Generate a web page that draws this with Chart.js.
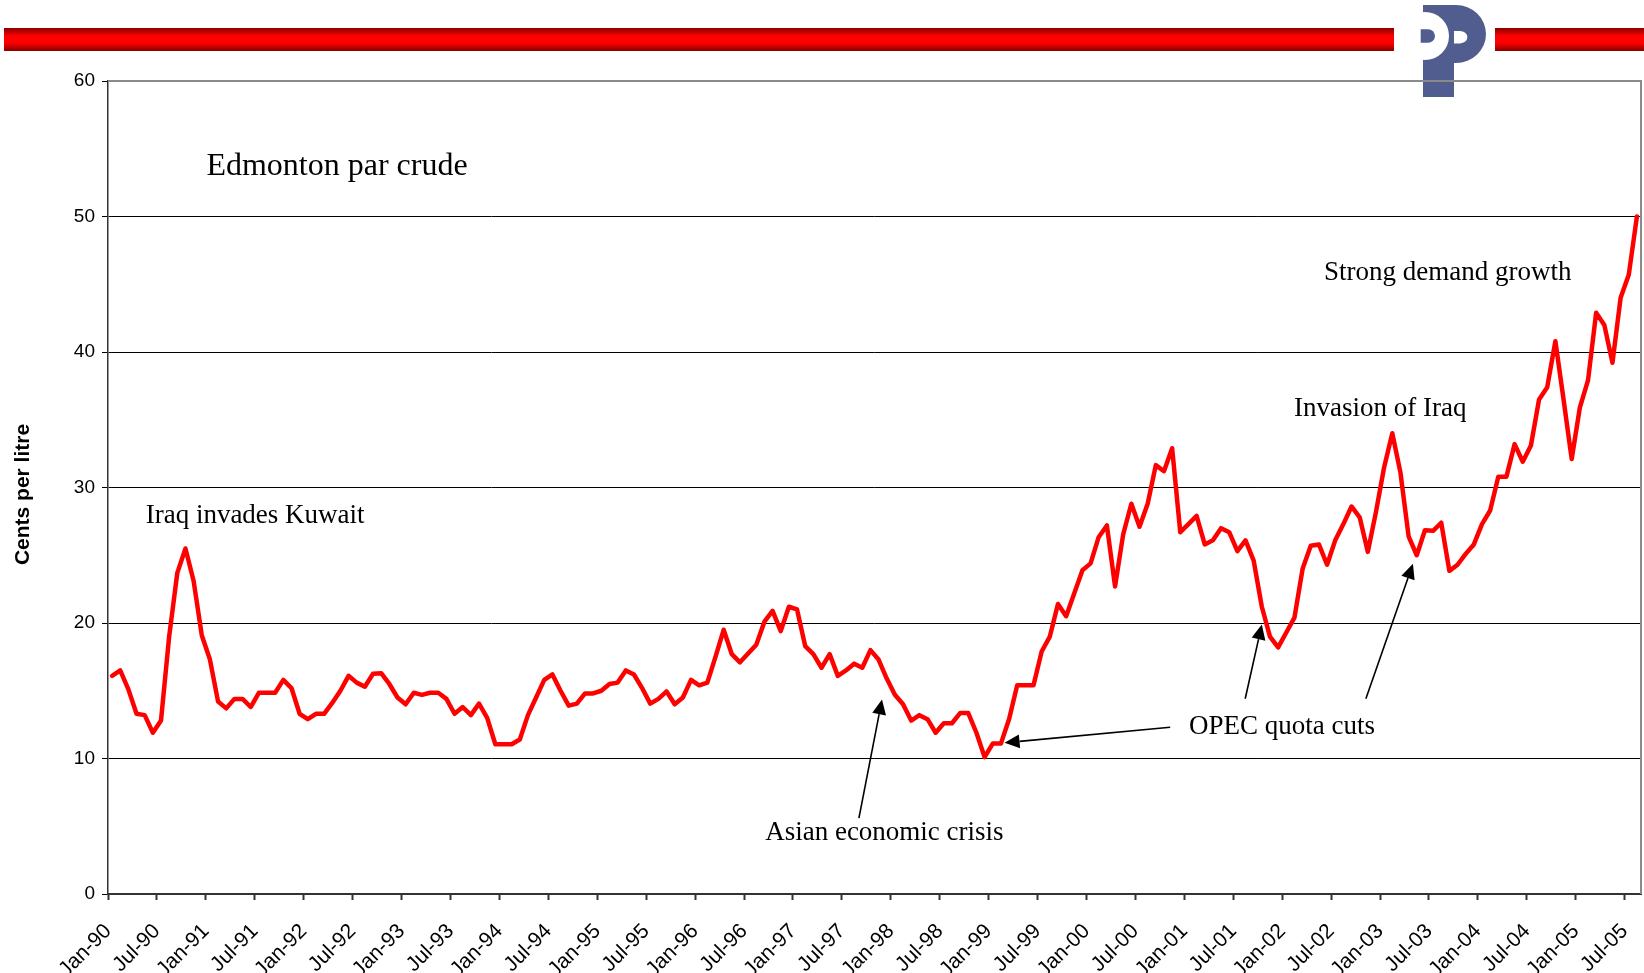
<!DOCTYPE html>
<html>
<head>
<meta charset="utf-8">
<title>Edmonton par crude</title>
<script src="https://cdn.jsdelivr.net/npm/chart.js@4.4.1/dist/chart.umd.min.js"></script>
<style>
	html, body { margin: 0; padding: 0; background: #fff; }
	#wrap { width: 1644px; height: 973px; }
</style>
</head>
<body>
<div id="wrap"><canvas id="crudeChart" width="1644" height="973"></canvas></div>
<script>
// month names for the category labels (Jan-90 .. Aug-05)
var MONTHS = ['Jan', 'Feb', 'Mar', 'Apr', 'May', 'Jun', 'Jul', 'Aug', 'Sep', 'Oct', 'Nov', 'Dec'];
var START_YEAR = 1990;

// Edmonton par crude, cents per litre, monthly (one line per year)
var priceData = [
	16.1, 16.5, 15.1, 13.3, 13.2, 11.9, 12.8, 19.0, 23.7, 25.5, 23.1, 19.1,
	17.3, 14.2, 13.7, 14.4, 14.4, 13.8, 14.85, 14.85, 14.85, 15.8, 15.2, 13.3,
	12.9, 13.3, 13.3, 14.1, 15.0, 16.1, 15.6, 15.3, 16.25, 16.3, 15.5, 14.5,
	14.0, 14.85, 14.7, 14.85, 14.85, 14.4, 13.3, 13.8, 13.2, 14.05, 13.0, 11.05,
	11.05, 11.05, 11.4, 13.2, 14.5, 15.8, 16.2, 15.0, 13.9, 14.05, 14.8, 14.8,
	15.0, 15.5, 15.6, 16.5, 16.2, 15.2, 14.05, 14.4, 14.95, 14.0, 14.5, 15.8,
	15.4, 15.6, 17.5, 19.5, 17.7, 17.1, 17.75, 18.4, 20.1, 20.9, 19.4, 21.2,
	21.0, 18.3, 17.7, 16.7, 17.7, 16.1, 16.5, 17.0, 16.7, 18.0, 17.3, 15.9,
	14.7, 14.0, 12.8, 13.2, 12.9, 11.9, 12.6, 12.6, 13.35, 13.35, 11.9, 10.1,
	11.1, 11.1, 12.9, 15.4, 15.4, 15.4, 17.9, 19.0, 21.4, 20.5, 22.2, 23.9,
	24.4, 26.35, 27.2, 22.7, 26.55, 28.8, 27.1, 28.8, 31.65, 31.2, 32.9, 26.7,
	27.3, 27.9, 25.8, 26.1, 27.0, 26.7, 25.3, 26.1, 24.6, 21.2, 19.0, 18.2,
	19.3, 20.4, 24.0, 25.7, 25.8, 24.3, 26.1, 27.3, 28.6, 27.8, 25.25, 28.2,
	31.5, 34.0, 31.1, 26.4, 25.0, 26.85, 26.8, 27.4, 23.85, 24.3, 25.1, 25.8,
	27.3, 28.3, 30.8, 30.8, 33.2, 31.9, 33.1, 36.5, 37.4, 40.8, 36.5, 32.1,
	35.9, 37.9, 42.9, 42.0, 39.2, 44.0, 45.7, 50.0
];

var yMin = 0;
var yMax = 60;
var yStep = 10;
var labelEvery = 6; // a tick label every six months
var yTitle = 'Cents per litre';

// text notes, anchored in data units (month index, cents per litre)
var notes = [
	{ text: 'Edmonton par crude', idx: 11.57, val: 53.09, size: 32 },
	{ text: 'Iraq invades Kuwait', idx: 4.12, val: 27.37, size: 27 },
	{ text: 'Asian economic crisis', idx: 80.09, val: 3.96, size: 27 },
	{ text: 'OPEC quota cuts', idx: 132.07, val: 11.83, size: 27 },
	{ text: 'Invasion of Iraq', idx: 144.95, val: 35.27, size: 27 },
	{ text: 'Strong demand growth', idx: 148.63, val: 45.29, size: 27 }
];

// arrows, tail -> tip, in data units
var arrows = [
	{ fromIdx: 91.59, fromVal: 5.6, toIdx: 94.42, toVal: 14.36 },
	{ fromIdx: 129.76, fromVal: 12.31, toIdx: 109.45, toVal: 11.16 },
	{ fromIdx: 138.96, fromVal: 14.41, toIdx: 141.0, toVal: 19.89 },
	{ fromIdx: 153.76, fromVal: 14.41, toIdx: 159.53, toVal: 24.37 }
];

var monthLabels = [];
for (var k = 0; k < priceData.length; k++) {
	var yy = (START_YEAR + Math.floor(k / 12)) % 100;
	monthLabels.push(MONTHS[k % 12] + '-' + (yy < 10 ? '0' + yy : '' + yy));
}

var SANS = "'Liberation Sans', Arial, sans-serif";
var SERIF = "'Liberation Serif', 'Times New Roman', serif";

function drawBar(ctx, x, y, w, h) {
	var g = ctx.createLinearGradient(0, y, 0, y + h);
	g.addColorStop(0, '#880000');
	g.addColorStop(0.35, '#ff0000');
	g.addColorStop(0.65, '#ff0000');
	g.addColorStop(1, '#880000');
	ctx.fillStyle = g;
	ctx.fillRect(x, y, w, h);
}

function drawLogo(ctx) {
	var blue = '#525d8f';
	ctx.fillStyle = blue;
	ctx.beginPath();
	ctx.moveTo(1423, 5);
	ctx.lineTo(1456, 5);
	ctx.ellipse(1456, 34, 30, 29, 0, -Math.PI / 2, Math.PI / 2);
	ctx.lineTo(1454, 63);
	ctx.lineTo(1454, 97);
	ctx.lineTo(1423, 97);
	ctx.closePath();
	ctx.fill();

	// white hollow of the left letter
	ctx.fillStyle = '#fff';
	ctx.beginPath();
	ctx.arc(1425, 36, 24, 0, Math.PI * 2);
	ctx.fill();

	// small blue bowl
	ctx.fillStyle = blue;
	ctx.beginPath();
	ctx.moveTo(1420.7, 29.3);
	ctx.lineTo(1428, 29.3);
	ctx.ellipse(1428, 36, 7, 6.7, 0, -Math.PI / 2, Math.PI / 2);
	ctx.lineTo(1420.7, 42.7);
	ctx.closePath();
	ctx.fill();

	// white counter of the right letter
	ctx.fillStyle = '#fff';
	ctx.beginPath();
	ctx.moveTo(1454, 31);
	ctx.lineTo(1460, 31);
	ctx.ellipse(1460, 37.2, 7.3, 6.2, 0, -Math.PI / 2, Math.PI / 2);
	ctx.lineTo(1454, 43.4);
	ctx.closePath();
	ctx.fill();
}

function drawArrow(ctx, x1, y1, x2, y2) {
	var ang = Math.atan2(y2 - y1, x2 - x1);
	var headLen = 15, headW = 7;
	var bx = x2 - headLen * Math.cos(ang);
	var by = y2 - headLen * Math.sin(ang);
	ctx.beginPath();
	ctx.moveTo(x1, y1);
	ctx.lineTo(bx, by);
	ctx.stroke();
	ctx.beginPath();
	ctx.moveTo(x2, y2);
	ctx.lineTo(bx + headW * Math.sin(ang), by - headW * Math.cos(ang));
	ctx.lineTo(bx - headW * Math.sin(ang), by + headW * Math.cos(ang));
	ctx.closePath();
	ctx.fill();
}

var decorPlugin = {
	id: 'decor',
	beforeDraw: function(chart) {
		var ctx = chart.ctx;
		ctx.save();
		ctx.fillStyle = '#fff';
		ctx.fillRect(0, 0, chart.width, chart.height);
		drawBar(ctx, 4, 28, 1390, 23);
		drawBar(ctx, 1495, 28, 149, 23);
		drawLogo(ctx);
		ctx.restore();
	},
	beforeDatasetsDraw: function(chart) {
		var ctx = chart.ctx;
		var a = chart.chartArea;
		ctx.save();
		ctx.strokeStyle = '#8a8a8a';
		ctx.lineWidth = 2;
		ctx.beginPath();
		ctx.moveTo(a.left, a.top);
		ctx.lineTo(a.right, a.top);
		ctx.lineTo(a.right, a.bottom);
		ctx.stroke();
		ctx.restore();
	},
	afterDraw: function(chart) {
		var ctx = chart.ctx;
		var xs = chart.scales.x;
		var ys = chart.scales.y;
		var a = chart.chartArea;
		ctx.save();
		ctx.fillStyle = '#000';
		ctx.strokeStyle = '#000';

		// y axis title
		ctx.save();
		ctx.translate(23, (a.top + a.bottom) / 2 + 7);
		ctx.rotate(-Math.PI / 2);
		ctx.textAlign = 'center';
		ctx.textBaseline = 'middle';
		ctx.font = 'bold 21px ' + SANS;
		ctx.fillText(yTitle, 0, 0);
		ctx.restore();

		ctx.textAlign = 'left';
		ctx.textBaseline = 'alphabetic';
		notes.forEach(function(n) {
			ctx.font = n.size + 'px ' + SERIF;
			ctx.fillText(n.text, xs.getPixelForValue(n.idx), ys.getPixelForValue(n.val));
		});
		ctx.lineWidth = 1.6;
		arrows.forEach(function(ar) {
			drawArrow(ctx,
				xs.getPixelForValue(ar.fromIdx), ys.getPixelForValue(ar.fromVal),
				xs.getPixelForValue(ar.toIdx), ys.getPixelForValue(ar.toVal));
		});
		ctx.restore();
	}
};

var ctx = document.getElementById('crudeChart');

var crudeChart = new Chart(ctx, {
	type: 'line',
	data: {
		labels: monthLabels,
		datasets: [
			{
				label: 'Edmonton par crude',
				data: priceData,
				borderColor: '#ff0000',
				backgroundColor: '#ff0000',
				borderWidth: 4.5,
				pointRadius: 0,
				tension: 0,
				fill: false,
				borderJoinStyle: 'round',
				borderCapStyle: 'round'
			}
		]
	},
	options: {
		responsive: false,
		animation: false,
		devicePixelRatio: 1,
		layout: {
			padding: { top: 81, right: 3, bottom: 0, left: 0 }
		},
		plugins: {
			legend: { display: false },
			title: { display: false },
			tooltip: { enabled: false }
		},
		scales: {
			x: {
				type: 'category',
				offset: true,
				border: { display: true, color: '#333', width: 2 },
				grid: {
					display: true,
					offset: true,
					drawOnChartArea: false,
					drawTicks: true,
					tickLength: 6,
					tickWidth: 2,
					color: function(c) { return c.index % labelEvery === 0 ? '#333' : 'rgba(0,0,0,0)'; },
					tickColor: function(c) { return c.index % labelEvery === 0 ? '#333' : 'rgba(0,0,0,0)'; }
				},
				ticks: {
					autoSkip: false,
					maxRotation: 45,
					minRotation: 45,
					padding: 19,
					labelOffset: -4,
					color: '#000',
					font: { family: SANS, size: 21 },
					callback: function(val, index) {
						return index % labelEvery === 0 ? this.getLabelForValue(val) : '';
					}
				},
				afterFit: function(scale) {
					scale.height = 79;
					scale.paddingLeft = 0;
					scale.paddingRight = 0;
				}
			},
			y: {
				min: yMin,
				max: yMax,
				border: { display: true, color: '#333', width: 1.5 },
				grid: {
					color: '#000',
					lineWidth: 1,
					tickLength: 6,
					tickColor: '#000'
				},
				ticks: {
					stepSize: yStep,
					padding: 7,
					color: '#000',
					font: { family: SANS, size: 19 }
				},
				title: { display: false, text: yTitle },
				afterFit: function(scale) { scale.width = 108; }
			}
		}
	},
	plugins: [decorPlugin]
});
</script>
</body>
</html>
